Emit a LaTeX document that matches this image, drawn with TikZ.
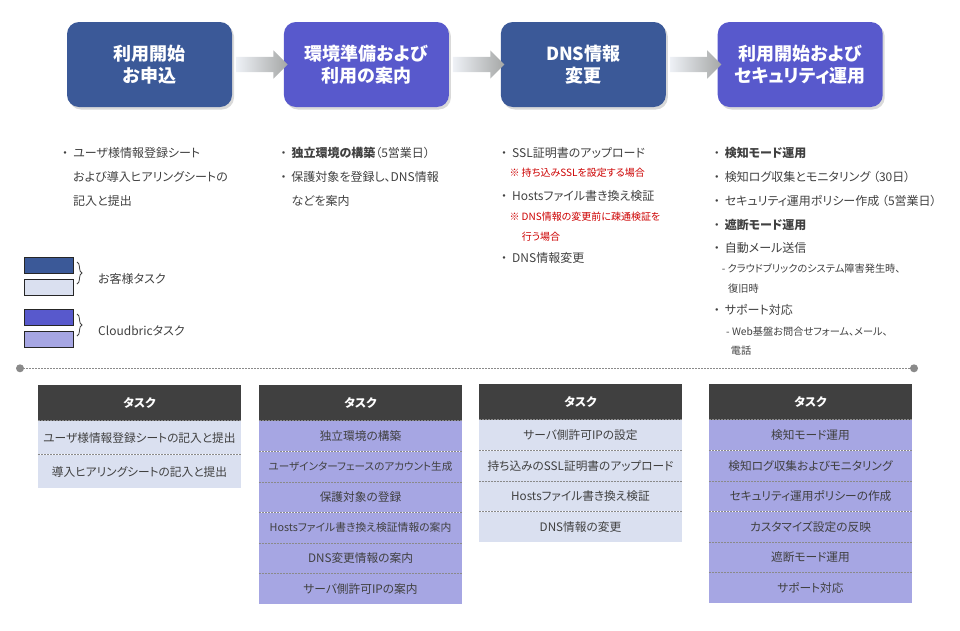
\documentclass[tikz,border=0pt]{standalone}
\usepackage{fontspec}
\setmainfont{Noto Sans CJK JP}[CharacterWidth=AlternateProportional]
\usetikzlibrary{positioning,shapes.arrows,shadows,decorations.pathreplacing}

\definecolor{custdark}{HTML}{3B5998}
\definecolor{custlight}{HTML}{DAE0F0}
\definecolor{cbdark}{HTML}{5859CC}
\definecolor{cblight}{HTML}{A6A6E3}
\definecolor{headgray}{HTML}{404040}
\definecolor{txtgray}{HTML}{404040}
\definecolor{notered}{HTML}{CC0000}
\definecolor{sepgray}{HTML}{8A8A8A}
\definecolor{flowlight}{HTML}{EEF1F6}
\definecolor{flowgray}{HTML}{A5A7A6}

\newcommand{\bul}{\makebox[16pt]{・}}
\newcommand{\ind}{\hspace*{16pt}}

\begin{document}
\begin{tikzpicture}[x=1pt, y=-1pt, node distance=51.5pt,
    stage/.style={rectangle, rounded corners=12pt, minimum width=165pt, minimum height=85pt, align=center, text=white, font=\fontsize{18}{22}\selectfont\bfseries, drop shadow={shadow xshift=2pt, shadow yshift=-2.5pt, opacity=0.3}},
    flow/.style={single arrow, single arrow head extend=6.5pt, single arrow head indent=0pt, inner xsep=0pt, inner ysep=7.5pt, minimum height=51.5pt, left color=flowlight, right color=flowgray},
    txt/.style={anchor=base west, inner sep=0pt, text=txtgray, font=\fontsize{12}{14}\selectfont},
    note/.style={txt, text=notered, font=\fontsize{10}{12}\selectfont},
    subtxt/.style={txt, font=\fontsize{10.2}{12}\selectfont},
    legbox/.style={rectangle, draw=black!85, line width=0.8pt, minimum width=49pt, minimum height=16pt, inner sep=0pt},
    brace/.style={decorate, decoration={brace, amplitude=5pt}, draw=txtgray, line width=0.8pt},
    thead/.style={rectangle, fill=headgray, text=white, minimum width=203pt, minimum height=36pt, inner sep=0pt, font=\fontsize{11.7}{14}\selectfont\bfseries},
    trow/.style={rectangle, minimum width=203pt, minimum height=30.2pt, inner sep=0pt, text=txtgray, font=\fontsize{11.7}{14}\selectfont},
    custrow/.style={trow, fill=custlight},
    cbrow/.style={trow, fill=cblight},
    rowsep/.style={draw=sepgray, line width=0.7pt, dash pattern=on 2pt off 1pt},
    sepline/.style={draw=sepgray, line width=0.8pt, dash pattern=on 2pt off 1pt}]

    \useasboundingbox (0,0) rectangle (960,630);

    % stages
    \node[stage, fill=custdark] (s1) at (149.5,64.5) {利用開始\\お申込};
    \node[stage, fill=cbdark, right=of s1] (s2) {環境準備および\\利用の案内};
    \node[stage, fill=custdark, right=of s2] (s3) {DNS情報\\変更};
    \node[stage, fill=cbdark, right=of s3] (s4) {利用開始および\\セキュリティ運用};

    \path (s1) -- node[flow] (f1) {} (s2);
    \path (s2) -- node[flow] (f2) {} (s3);
    \path (s3) -- node[flow] (f3) {} (s4);

    % stage details
    \node[txt] (c1a) at (57,157) {\bul ユーザ様情報登録シート};
    \node[txt] (c1b) at (57,181) {\ind および導入ヒアリングシートの};
    \node[txt] (c1c) at (57,205.3) {\ind 記入と提出};

    \node[txt] (c2a) at (275.3,157) {\bul\textbf{独立環境の構築}（5営業日）};
    \node[txt] (c2b) at (275.3,181) {\bul 保護対象を登録し、DNS情報};
    \node[txt] (c2c) at (275.3,205.3) {\ind などを案内};

    \node[txt] (c3a) at (496,157) {\bul SSL証明書のアップロード};
    \node[note] (c3b) at (509.3,176.8) {※ 持ち込みSSLを設定する場合};
    \node[txt] (c3c) at (496,200) {\bul Hostsファイル書き換え検証};
    \node[note] (c3d) at (509.3,220.8) {※ DNS情報の変更前に疎通検証を};
    \node[note] (c3e) at (521.7,240.2) {行う場合};
    \node[txt] (c3f) at (496,262.6) {\bul DNS情報変更};

    \node[txt] (c4a) at (708.7,157) {\bul\textbf{検知モード運用}};
    \node[txt] (c4b) at (708.7,181) {\bul 検知ログ収集とモニタリング （30日）};
    \node[txt] (c4c) at (708.7,205) {\bul セキュリティ運用ポリシー作成 （5営業日）};
    \node[txt] (c4d) at (708.7,229.3) {\bul\textbf{遮断モード運用}};
    \node[txt] (c4e) at (708.7,252.6) {\bul 自動メール送信};
    \node[subtxt] (c4f) at (721.7,272.5) {- クラウドブリックのシステム障害発生時、};
    \node[subtxt] (c4g) at (728,292.5) {復旧時};
    \node[txt] (c4h) at (708.7,314.3) {\bul サポート対応};
    \node[subtxt] (c4i) at (726,335.2) {- Web基盤お問合せフォーム、メール、};
    \node[subtxt] (c4j) at (730.7,354.2) {電話};

    % legend
    \node[legbox, fill=custdark] (lg1) at (48.8,265.5) {};
    \node[legbox, fill=custlight] (lg2) at (48.8,287) {};
    \node[legbox, fill=cbdark] (lg3) at (48.8,317.2) {};
    \node[legbox, fill=cblight] (lg4) at (48.8,339) {};
    \draw[brace] (77,262) -- (77,284);
    \draw[brace] (77,314) -- (77,336);
    \node[txt] (lgcust) at (98,283.5) {お客様タスク};
    \node[txt] (lgcb) at (98,335.5) {Cloudbricタスク};

    % separator
    \coordinate (sepL) at (20,368.3);
    \coordinate (sepR) at (914,368.3);
    \draw[sepline] (sepL) -- (sepR);
    \fill[sepgray] (sepL) circle (4);
    \fill[sepgray] (sepR) circle (4);

    % task tables
    \node[thead] (t1h) at (139.5,402.5) {タスク};
    \node[custrow, minimum height=33.5pt, below=0pt of t1h] (t1r1) {ユーザ様情報登録シートの記入と提出};
    \node[custrow, minimum height=33.5pt, below=0pt of t1r1] (t1r2) {導入ヒアリングシートの記入と提出};

    \node[thead] (t2h) at (360.5,402.5) {タスク};
    \node[cbrow, below=0pt of t2h] (t2r1) {独立環境の構築};
    \node[cbrow, below=0pt of t2r1, font=\fontsize{10.6}{13}\selectfont] (t2r2) {ユーザインターフェースのアカウント生成};
    \node[cbrow, below=0pt of t2r2] (t2r3) {保護対象の登録};
    \node[cbrow, below=0pt of t2r3, font=\fontsize{10.8}{13}\selectfont] (t2r4) {Hostsファイル書き換え検証情報の案内};
    \node[cbrow, below=0pt of t2r4] (t2r5) {DNS変更情報の案内};
    \node[cbrow, below=0pt of t2r5] (t2r6) {サーバ側許可IPの案内};

    \node[thead] (t3h) at (580.5,401.5) {タスク};
    \node[custrow, below=0pt of t3h] (t3r1) {サーバ側許可IPの設定};
    \node[custrow, below=0pt of t3r1] (t3r2) {持ち込みのSSL証明書のアップロード};
    \node[custrow, below=0pt of t3r2] (t3r3) {Hostsファイル書き換え検証};
    \node[custrow, below=0pt of t3r3] (t3r4) {DNS情報の変更};

    \node[thead] (t4h) at (810.5,401.5) {タスク};
    \node[cbrow, below=0pt of t4h] (t4r1) {検知モード運用};
    \node[cbrow, below=0pt of t4r1] (t4r2) {検知ログ収集およびモニタリング};
    \node[cbrow, below=0pt of t4r2] (t4r3) {セキュリティ運用ポリシーの作成};
    \node[cbrow, below=0pt of t4r3] (t4r4) {カスタマイズ設定の反映};
    \node[cbrow, below=0pt of t4r4] (t4r5) {遮断モード運用};
    \node[cbrow, below=0pt of t4r5] (t4r6) {サポート対応};

    \foreach \n in {t1h,t1r1,t2h,t2r1,t2r2,t2r3,t2r4,t2r5,t3h,t3r1,t3r2,t3r3,t4h,t4r1,t4r2,t4r3,t4r4,t4r5}
        \draw[rowsep] (\n.south west) -- (\n.south east);
\end{tikzpicture}
\end{document}
